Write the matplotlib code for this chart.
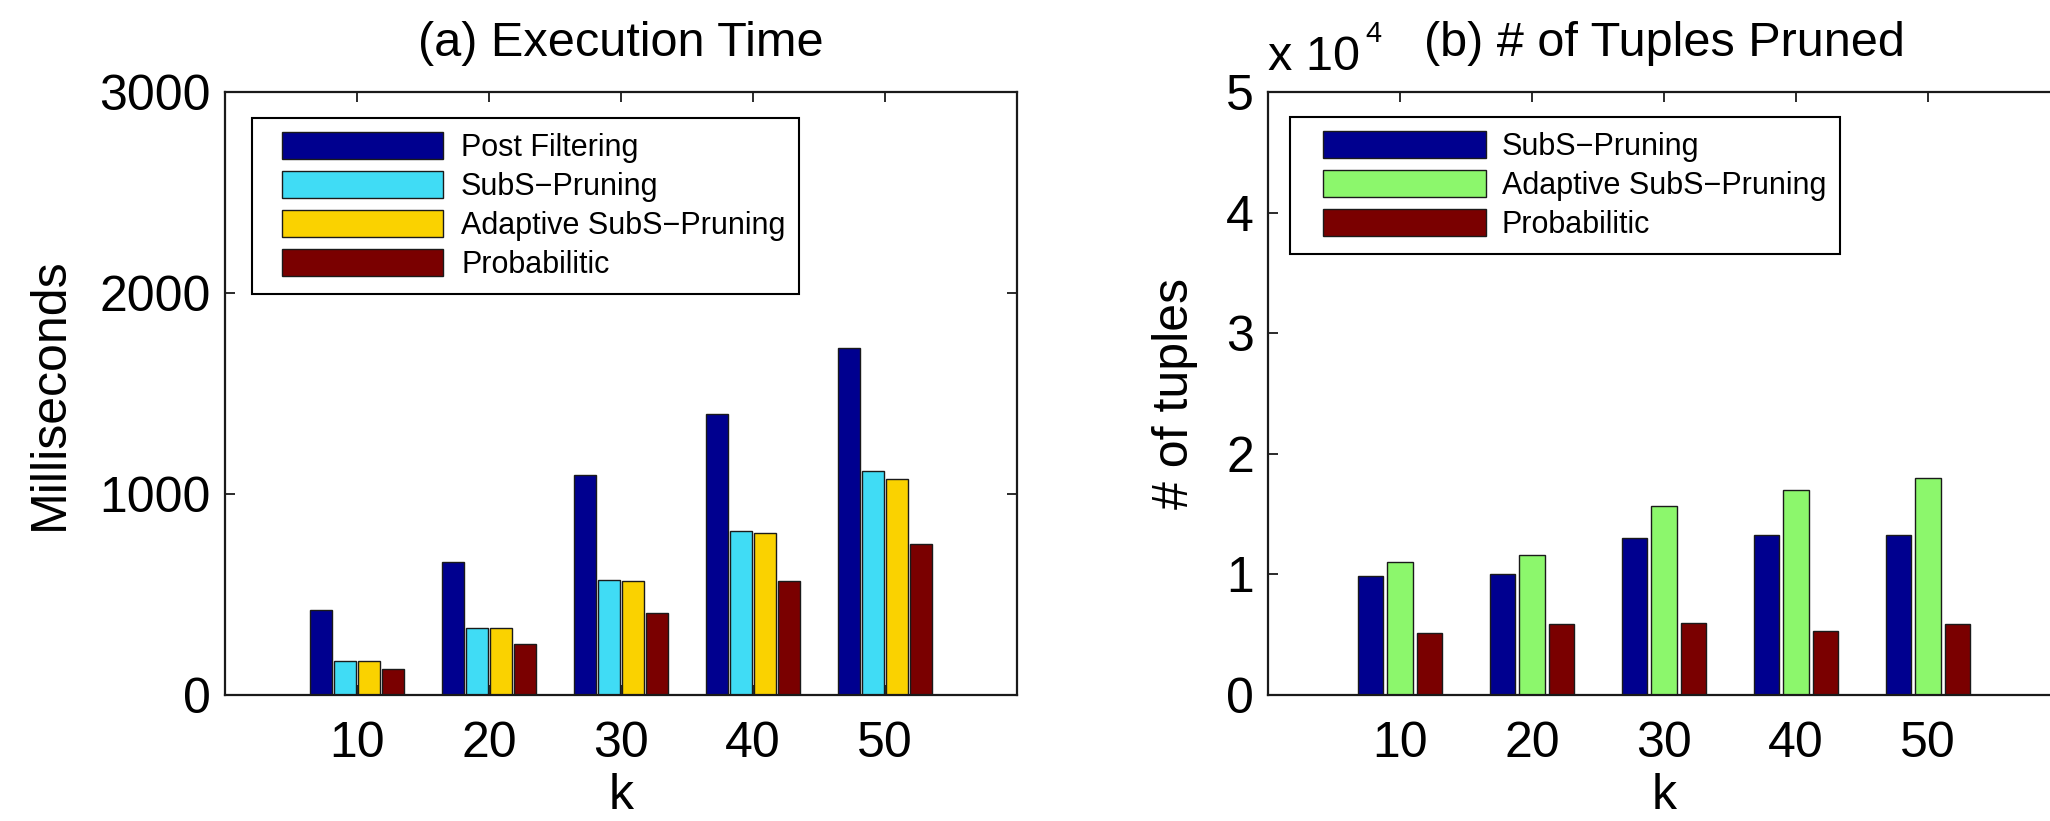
import matplotlib
matplotlib.use('Agg')
import matplotlib.pyplot as plt
import numpy as np
from matplotlib.patches import Rectangle
from matplotlib.legend_handler import HandlerPatch

plt.rcParams['font.family'] = ['Liberation Sans', 'DejaVu Sans']
plt.rcParams['mathtext.default'] = 'regular'

# ---------------- data ----------------
k_values = ['10', '20', '30', '40', '50']

# (a) Execution time in milliseconds
post_filtering_ms = [423, 662, 1094, 1397, 1727]
subs_pruning_ms = [171, 332, 574, 818, 1112]
adaptive_subs_ms = [171, 332, 566, 805, 1073]
probabilistic_ms = [130, 255, 410, 566, 753]

# (b) number of tuples pruned
subs_pruning_tuples = [9900, 10000, 13000, 13300, 13300]
adaptive_subs_tuples = [11000, 11600, 15700, 17000, 18000]
probabilistic_tuples = [5100, 5900, 6000, 5300, 5900]

labels_a = ['Post Filtering', 'SubS\u2212Pruning', 'Adaptive SubS\u2212Pruning', 'Probabilitic']
labels_b = ['SubS\u2212Pruning', 'Adaptive SubS\u2212Pruning', 'Probabilitic']

colors_a = ['#00008F', '#40DCF5', '#FAD200', '#7A0000']
colors_b = ['#00008F', '#8CF76C', '#7A0000']

# ---------------- figure ----------------
W, H = 2050, 821
fig = plt.figure(figsize=(W / 100, H / 100), dpi=100)

ax_l, ax_b, ax_w, ax_h = 225, 695, 792, 603
ax1 = fig.add_axes([ax_l / W, (H - ax_b) / H, ax_w / W, ax_h / H])
ax2 = fig.add_axes([1268 / W, (H - ax_b) / H, ax_w / W, ax_h / H])

FS = 36
TFS = 35
LFS = 22


def shifted_handler(shift_em):
    def patch_func(legend, orig_handle, xdescent, ydescent, width, height, fontsize):
        s = shift_em * fontsize
        return Rectangle((-xdescent + s, -ydescent), width - s, height)
    return HandlerPatch(patch_func=patch_func)


def style_axes(ax):
    for sp in ax.spines.values():
        sp.set_linewidth(1.6)
        sp.set_color('#1a1a1a')
    ax.tick_params(axis='both', direction='in', top=True, right=True,
                   length=7, width=1.3, labelsize=FS, color='#1a1a1a')
    ax.tick_params(axis='x', pad=19)
    ax.tick_params(axis='y', pad=10)
    ax.set_xlim(0, 6)


x = np.arange(1, len(k_values) + 1)

# ---- (a) ----
series_a = [post_filtering_ms, subs_pruning_ms, adaptive_subs_ms, probabilistic_ms]
slot_a = 0.182
for i, (vals, c) in enumerate(zip(series_a, colors_a)):
    ax1.bar(x + (i - 1.5) * slot_a, vals, width=0.168, color=c,
            edgecolor='#1a1a1a', linewidth=1.0, zorder=2)
style_axes(ax1)
ax1.set_xticks(x, k_values)
ax1.set_ylim(0, 3000)
ax1.set_yticks([0, 1000, 2000, 3000])
ax1.set_title('(a) Execution Time', fontsize=TFS, pad=26)
ax1.set_xlabel('k', fontsize=FS, va='center')
ax1.xaxis.set_label_coords(0.5, -0.168)
ax1.set_ylabel('Milliseconds', fontsize=FS, va='center')
ax1.yaxis.set_label_coords((50 - ax_l) / ax_w, 0.5)

handles_a = [Rectangle((0, 0), 1, 1, facecolor=c, edgecolor='#1a1a1a', linewidth=1.0)
             for c in colors_a]
leg1 = ax1.legend(handles_a, labels_a, loc='upper left',
                  bbox_to_anchor=(27 / ax_w, 1 - 26 / ax_h), borderaxespad=0,
                  fontsize=LFS, handlelength=5.80, handleheight=0.98,
                  handletextpad=0.59, borderpad=0.45, labelspacing=0.27,
                  fancybox=False, framealpha=1, edgecolor='black',
                  handler_map={Rectangle: shifted_handler(0.53)})
leg1.get_frame().set_linewidth(1.5)

# ---- (b) ----
series_b = [subs_pruning_tuples, adaptive_subs_tuples, probabilistic_tuples]
slot_b = 0.222
for i, (vals, c) in enumerate(zip(series_b, colors_b)):
    ax2.bar(x + (i - 1) * slot_b, np.array(vals) / 1e4, width=0.19, color=c,
            edgecolor='#1a1a1a', linewidth=1.0, zorder=2)
style_axes(ax2)
ax2.set_xticks(x, k_values)
ax2.set_ylim(0, 5)
ax2.set_yticks([0, 1, 2, 3, 4, 5])
ax2.set_title('(b) # of Tuples Pruned', fontsize=TFS, pad=26)
ax2.set_xlabel('k', fontsize=FS, va='center')
ax2.xaxis.set_label_coords(0.5, -0.168)
ax2.set_ylabel('# of tuples', fontsize=FS, va='center')
ax2.yaxis.set_label_coords((1175 - 1268) / ax_w, 0.5)

handles_b = [Rectangle((0, 0), 1, 1, facecolor=c, edgecolor='#1a1a1a', linewidth=1.0)
             for c in colors_b]
leg2 = ax2.legend(handles_b, labels_b, loc='upper left',
                  bbox_to_anchor=(22 / ax_w, 1 - 25 / ax_h), borderaxespad=0,
                  fontsize=LFS, handlelength=5.96, handleheight=0.98,
                  handletextpad=0.52, borderpad=0.45, labelspacing=0.27,
                  fancybox=False, framealpha=1, edgecolor='black',
                  handler_map={Rectangle: shifted_handler(0.63)})
leg2.get_frame().set_linewidth(1.5)

# exponent label
fig.text(1268 / W, 1 - 70 / H, 'x 10', fontsize=35, ha='left', va='baseline')
fig.text(1365 / W, 1 - 42 / H, '4', fontsize=21, ha='left', va='baseline')

fig.savefig('out.png', dpi=100)
